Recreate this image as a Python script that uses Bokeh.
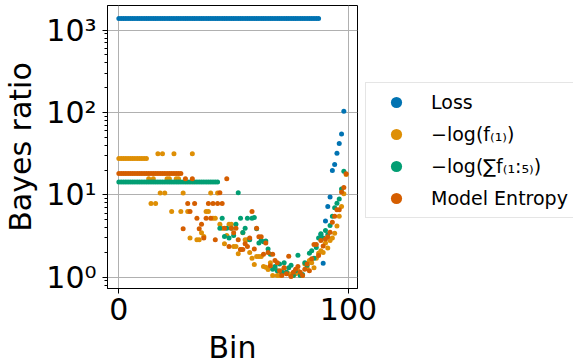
from bokeh.plotting import figure
from bokeh.models import Range1d, FixedTicker, CustomJSTickFormatter, Legend, LegendItem
from bokeh.embed import file_html
from bokeh.resources import INLINE

# ---------------- data ----------------
# Loss: constant (capped) value over bins 0..87, then a rising tail
loss_flat_bins = list(range(0, 88))
loss_flat_value = 1390
loss_tail_bins = [88, 89, 90, 91, 92, 93, 94, 95, 96, 97, 98]
loss_tail_vals = [3.3, 1.48, 4.8, 7.2, 9.4, 19.8, 23.4, 32, 42, 55, 104]

# -log(f_(1)): constant over bins 0..12
f1_flat_bins = list(range(0, 13))
f1_flat_value = 27.7
f1_tail_bins = [13, 14, 15, 16, 17, 18, 19, 20, 21, 22, 23, 24, 25, 26, 27, 28,
                30, 31, 32,
                34, 35, 36, 37, 38, 39, 40, 41, 42, 43, 44, 45, 46, 47, 48, 49,
                50, 51, 52, 53, 54, 55, 56, 57, 58, 59, 60, 61, 62, 63, 64, 65,
                66, 67, 68, 69, 70, 71, 72, 73, 74, 75, 76, 77, 78, 79, 80, 81,
                82, 83, 84, 85, 86, 87, 88, 89, 90, 91, 92, 93, 94, 95, 96, 97,
                98, 99]
f1_tail_vals = [15.7, 7.85, 15.7, 7.85, 31.5, 10.5, 31.5, 10.5, 15.7, 15.7, 6.3, 31.5,
                15.7, 15.7, 6.3, 10.5,
                6.3, 3.0, 31.5,
                2.85, 2.85, 3.46, 3.12, 6.3, 6.3, 10.5, 5.2, 5.2, 10.5, 4.4, 3.94,
                2.54, 3.2, 4.4, 4.4, 2.36, 2.36, 1.92, 2.17, 3.46, 2.85, 2.85, 2.0,
                1.7, 1.43, 1.78, 1.78, 1.78, 1.35, 1.32, 1.24, 1.5, 1.05, 1.3, 1.05,
                1.05, 1.2, 1.3, 1.15, 1.1, 1.05, 1.05, 1.1, 1.2, 1.08, 1.05, 1.45,
                1.3, 1.6, 1.5, 1.3, 1.7, 1.95, 2.1, 2.0, 2.6, 2.27, 2.8, 3.0, 3.42,
                4.2, 5.5, 7.2, 10.3, 17.7]

# -log(sum f_(1:5)): constant over bins 0..43
sum5_flat_bins = list(range(0, 44))
sum5_flat_value = 14.3
sum5_tail_bins = list(range(44, 99))
sum5_tail_vals = [3.94, 5.2, 3.12, 3.94, 3.0, 3.94, 3.2, 4.4, 10.6, 5.2, 3.5,
                  3.94, 5.2, 2.85, 5.2, 5.3, 3.87, 2.6, 2.8, 2.7, 2.75, 2.2,
                  1.9, 1.25, 1.35, 1.2, 1.45, 1.15, 1.5, 1.15, 1.3, 1.4, 1.05,
                  1.2, 1.85, 1.05, 1.08, 1.5, 1.4, 1.95, 2.1, 1.7, 2.3, 3.0,
                  3.36, 3.0, 3.69, 3.3, 4.24, 5.5, 6.95, 7.9, 8.9, 11.8, 19.4]

# Model entropy: constant over bins 0..27
ent_flat_bins = list(range(0, 28))
ent_flat_value = 18.2
ent_tail_bins = list(range(28, 100))
ent_tail_vals = [3.87, 15.7, 7.85, 6.3, 15.7, 7.85, 5.2, 3.87, 4.4, 3.0, 5.2,
                 7.85, 5.2, 7.85, 2.85, 7.85, 10.6, 7.85, 3.94, 15.7, 2.36, 3.94,
                 3.46, 3.94, 2.85, 2.17, 2.17, 2.54, 2.36, 3.0, 6.3, 2.2, 3.94,
                 3.1, 3.1, 1.9, 2.6, 2.0, 1.38, 1.9, 1.6, 1.5, 1.2, 1.05, 1.3,
                 1.1, 1.8, 1.02, 1.15, 1.25, 1.35, 1.15, 1.05, 1.25, 1.45, 1.2,
                 1.67, 2.5, 2.5, 1.83, 2.79, 2.4, 2.92, 3.1, 3.52, 4.66, 5.5,
                 6.6, 6.6, 10.8, 12.3, 18]

labels = ["Loss", "\u2212log(f\u208d\u2081\u208e)", "\u2212log(\u2211f\u208d\u2081:\u2085\u208e)", "Model Entropy"]
colors = ["#0173B2", "#DE8F05", "#029E73", "#D55E00"]

y_major = [1, 10, 100, 1000]
x_major = [0, 100]

# ---------------- figure ----------------
FONT = "DejaVu Sans"
p = figure(frame_width=250, frame_height=283,
           y_axis_type="log",
           x_range=Range1d(-4.95, 103.95), y_range=Range1d(0.729, 1995),
           output_backend="svg", toolbar_location=None,
           min_border_left=100, min_border_right=0,
           min_border_top=5, min_border_bottom=0,
           background_fill_color="white", border_fill_color="white")

series = [
    (loss_flat_bins, [loss_flat_value] * len(loss_flat_bins), loss_tail_bins, loss_tail_vals),
    (f1_flat_bins, [f1_flat_value] * len(f1_flat_bins), f1_tail_bins, f1_tail_vals),
    (sum5_flat_bins, [sum5_flat_value] * len(sum5_flat_bins), sum5_tail_bins, sum5_tail_vals),
    (ent_flat_bins, [ent_flat_value] * len(ent_flat_bins), ent_tail_bins, ent_tail_vals),
]
items = []
for (fx, fy, tx, ty), lab, col in zip(series, labels, colors):
    xs = list(fx) + list(tx)
    ys = list(fy) + list(ty)
    r = p.scatter(xs, ys, size=5, marker="circle", fill_color=col, line_color=col,
                  line_width=0)
    items.append(LegendItem(label=lab, renderers=[r]))

# axes
p.xaxis.ticker = FixedTicker(ticks=x_major)
minor = [m * d for d in (0.1, 1, 10, 100, 1000) for m in range(2, 10)]
p.yaxis.ticker = FixedTicker(ticks=y_major, minor_ticks=minor)
p.yaxis.formatter = CustomJSTickFormatter(code="""
const sup = {'0':'\u2070','1':'\u00b9','2':'\u00b2','3':'\u00b3','4':'\u2074','5':'\u2075','6':'\u2076','7':'\u2077','8':'\u2078','9':'\u2079','-':'\u207b'};
const e = Math.round(Math.log10(tick));
return '10' + String(e).split('').map(c => sup[c]).join('');
""")
p.xaxis.axis_label = "Bin"
p.yaxis.axis_label = "Bayes ratio"
for ax in (p.xaxis[0], p.yaxis[0]):
    ax.major_label_text_font = FONT
    ax.major_label_text_font_size = "30px"
    ax.major_label_text_color = "black"
    ax.axis_label_text_font = FONT
    ax.axis_label_text_font_size = "30px"
    ax.axis_label_text_font_style = "normal"
    ax.axis_label_text_color = "black"
    ax.axis_line_color = "black"
    ax.major_tick_line_color = "black"
    ax.minor_tick_line_color = "black"
    ax.major_tick_in = 0
    ax.major_tick_out = 5
    ax.minor_tick_in = 0
    ax.minor_tick_out = 3
p.xaxis.major_label_standoff = 4
p.xaxis.axis_label_standoff = 7
p.yaxis.major_label_standoff = 6
p.yaxis.axis_label_standoff = 5

p.grid.grid_line_color = "#b0b0b0"
p.grid.grid_line_width = 1
p.outline_line_color = "black"
p.outline_line_width = 1

# legend (outside, to the right of the frame)
lg = Legend(items=items, location=(8, 70))
lg.label_text_font = FONT
lg.label_text_font_size = "19px"
lg.label_text_color = "black"
lg.glyph_width = 50
lg.glyph_height = 28
lg.label_height = 28
lg.label_standoff = 10
lg.spacing = 4
lg.padding = 5
lg.margin = 0
lg.border_line_color = "#cccccc"
lg.border_line_width = 1
lg.background_fill_alpha = 0.8
p.add_layout(lg, "right")

open("out.html", "w").write(file_html(p, INLINE))
